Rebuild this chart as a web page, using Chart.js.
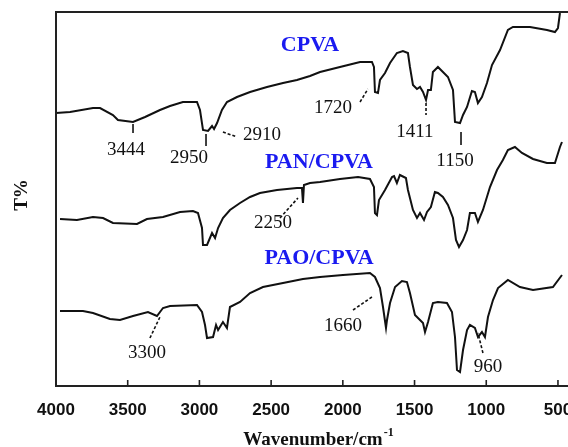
<!DOCTYPE html>
<html>
<head>
<meta charset="utf-8">
<script src="https://cdn.jsdelivr.net/npm/chart.js@4/dist/chart.umd.min.js"></script>
<style>
html,body{margin:0;padding:0;background:#fff;}
#wrap{width:568px;height:447px;position:relative;}
</style>
</head>
<body>
<div id="wrap"><canvas id="c" width="568" height="447"></canvas></div>
<script>
// ---- Data (wavenumber in cm^-1, transmittance in arbitrary units) ----
const tickValues = [4000, 3500, 3000, 2500, 2000, 1500, 1000, 500];

const cpvaWn = [4000,3902,3742,3693,3603,3568,3463,3379,3275,3205,3115,3017,2996,2975,2940,2912,2898,2877,2843,2808,2738,2647,2529,2417,2320,2229,2159,2020,1880,1797,1783,1776,1755,1741,1706,1671,1623,1581,1546,1532,1511,1483,1462,1441,1420,1406,1386,1372,1337,1302,1267,1232,1218,1183,1162,1134,1100,1079,1058,1030,995,960,904,849,814,695,577,521,500,486];
const cpvaT  = [273,274,278,278,271,266,264,269,276,280,284,284,276,256,255,260,257,263,276,284,289,294,299,303,306,310,314,319,324,324,319,294,293,306,313,323,333,335,333,319,301,297,299,294,286,296,296,314,319,314,309,296,264,263,271,279,295,294,283,289,303,321,336,356,359,359,356,354,358,373];

const panWn = [3972,3854,3742,3672,3603,3435,3366,3254,3135,3045,3010,2982,2975,2947,2912,2891,2870,2836,2787,2717,2647,2578,2459,2320,2285,2278,2271,2229,2159,2020,1894,1811,1783,1776,1762,1748,1706,1657,1643,1623,1602,1560,1546,1511,1483,1462,1434,1413,1386,1358,1337,1302,1267,1232,1211,1190,1162,1134,1114,1079,1058,1023,974,925,884,849,800,751,674,577,521,486,472];
const panT  = [167,166,169,168,163,162,167,169,174,175,173,158,141,141,153,148,158,168,176,183,189,193,196,198,198,183,201,203,204,207,209,207,199,173,171,186,196,209,210,203,211,208,196,176,168,173,166,174,179,194,193,189,181,168,146,139,146,156,173,173,164,176,199,216,226,236,239,233,227,223,223,239,244];

const paoWn = [3972,3812,3742,3624,3554,3463,3359,3296,3254,3205,3017,2982,2961,2947,2905,2884,2870,2836,2808,2787,2717,2647,2557,2417,2278,2159,1999,1811,1776,1741,1720,1699,1692,1671,1636,1588,1553,1532,1497,1462,1441,1427,1406,1372,1337,1274,1239,1218,1204,1183,1162,1134,1114,1079,1058,1030,1009,988,953,918,849,765,674,535,472];
const paoT  = [75,75,73,67,66,70,74,70,78,80,81,74,61,48,49,61,56,64,58,79,84,93,99,103,107,109,111,113,109,98,79,58,66,83,99,105,104,93,71,66,63,54,64,83,84,83,74,49,16,14,36,56,61,58,49,54,49,69,86,98,106,99,96,99,111];

const seriesNames = ['CPVA', 'PAN/CPVA', 'PAO/CPVA'];
const seriesNameWn = [2229, 2166, 2166];
const seriesNameT  = [341, 224, 128];

const peakLabels  = ['3444','2950','2910','1720','1411','1150','2250','3300','1660','960'];
const peakTextWn  = [3512, 3073, 2564, 2069, 1497, 1218, 2487, 3366, 1999, 988];
const peakTextT   = [236, 228, 251, 278, 254, 225, 163, 33, 60, 19];
const leadFromWn  = [3463, 2954, 2836, 1880, 1420, 1176, 2438, 3345, 1929, 1023];
const leadFromT   = [262, 252, 254, 284, 283, 254, 168, 48, 76, 33];
const leadToWn    = [3463, 2954, 2738, 1825, 1420, 1176, 2313, 3275, 1797, 1058];
const leadToT     = [253, 240, 249, 297, 271, 241, 188, 69, 89, 53];

const xTitle = 'Wavenumber/cm';
const xTitleSup = '-1';
const yTitle = 'T%';

// ---- Build ----
const toPts = (xs, ys) => xs.map((v, i) => ({x: v, y: ys[i]}));
const dashedLeaders = new Set(['2910','1720','1411','2250','3300','1660','960']);
const SERIF = '"Liberation Serif", "Times New Roman", serif';

const decor = {
  id: 'decor',
  afterDraw(chart) {
    const {ctx, chartArea: a, scales: {x, y}} = chart;
    ctx.save();
    ctx.strokeStyle = '#222';
    ctx.lineWidth = 2;
    ctx.beginPath();
    ctx.moveTo(a.left, a.bottom);
    ctx.lineTo(a.left, a.top);
    ctx.lineTo(a.right, a.top);
    ctx.stroke();
    // inward tick marks
    ctx.lineWidth = 1.6;
    tickValues.forEach(v => {
      const px = x.getPixelForValue(v);
      ctx.beginPath();
      ctx.moveTo(px, a.bottom);
      ctx.lineTo(px, a.bottom - 6);
      ctx.stroke();
    });
    // series names
    ctx.fillStyle = '#1a1af0';
    ctx.font = 'bold 22px ' + SERIF;
    ctx.textAlign = 'center';
    ctx.textBaseline = 'middle';
    seriesNames.forEach((n, i) => {
      ctx.fillText(n, x.getPixelForValue(seriesNameWn[i]), y.getPixelForValue(seriesNameT[i]));
    });
    // peak labels + leaders
    ctx.fillStyle = '#111';
    ctx.strokeStyle = '#111';
    ctx.font = '19px ' + SERIF;
    peakLabels.forEach((t, i) => {
      ctx.fillText(t, x.getPixelForValue(peakTextWn[i]), y.getPixelForValue(peakTextT[i]));
      ctx.setLineDash(dashedLeaders.has(t) ? [3, 2] : []);
      ctx.lineWidth = 1.6;
      ctx.beginPath();
      ctx.moveTo(x.getPixelForValue(leadFromWn[i]), y.getPixelForValue(leadFromT[i]));
      ctx.lineTo(x.getPixelForValue(leadToWn[i]), y.getPixelForValue(leadToT[i]));
      ctx.stroke();
    });
    ctx.setLineDash([]);
    // axis titles
    ctx.fillStyle = '#111';
    ctx.textAlign = 'left';
    ctx.textBaseline = 'alphabetic';
    ctx.font = 'bold 19px ' + SERIF;
    const w1 = ctx.measureText(xTitle).width;
    ctx.font = 'bold 12px ' + SERIF;
    const w2 = ctx.measureText(xTitleSup).width;
    const cx = 318;
    const sx = cx - (w1 + w2) / 2;
    ctx.font = 'bold 19px ' + SERIF;
    ctx.fillText(xTitle, sx, 445);
    ctx.font = 'bold 12px ' + SERIF;
    ctx.fillText(xTitleSup, sx + w1 + 1, 436);
    ctx.save();
    ctx.translate(22, 195);
    ctx.rotate(-Math.PI / 2);
    ctx.font = 'bold 19px ' + SERIF;
    ctx.textAlign = 'center';
    ctx.textBaseline = 'middle';
    ctx.fillText(yTitle, 0, 0);
    ctx.restore();
    ctx.restore();
  }
};

const lineStyle = {borderColor: '#111', borderWidth: 2, pointRadius: 0, tension: 0, fill: false};

new Chart(document.getElementById('c'), {
  type: 'line',
  data: {
    datasets: [
      Object.assign({label: seriesNames[0], data: toPts(cpvaWn, cpvaT)}, lineStyle),
      Object.assign({label: seriesNames[1], data: toPts(panWn, panT)}, lineStyle),
      Object.assign({label: seriesNames[2], data: toPts(paoWn, paoT)}, lineStyle)
    ]
  },
  options: {
    responsive: false,
    animation: false,
    layout: {padding: {left: 56, top: 12, right: 0, bottom: 0}},
    plugins: {legend: {display: false}, tooltip: {enabled: false}},
    scales: {
      x: {
        type: 'linear',
        reverse: true,
        min: 430,
        max: 4000,
        afterBuildTicks: s => { s.ticks = tickValues.map(v => ({value: v})); },
        afterFit: s => { s.height = 61; s.paddingLeft = 0; s.paddingRight = 0; },
        grid: {display: false, drawTicks: false},
        border: {display: true, color: '#222', width: 2},
        ticks: {
          padding: 14,
          autoSkip: false,
          maxRotation: 0,
          color: '#111',
          callback: v => String(v),
          font: {family: '"Liberation Sans", Arial, sans-serif', size: 17, weight: 'bold'}
        }
      },
      y: {
        display: false,
        min: 0,
        max: 374
      }
    }
  },
  plugins: [decor]
});
</script>
</body>
</html>
